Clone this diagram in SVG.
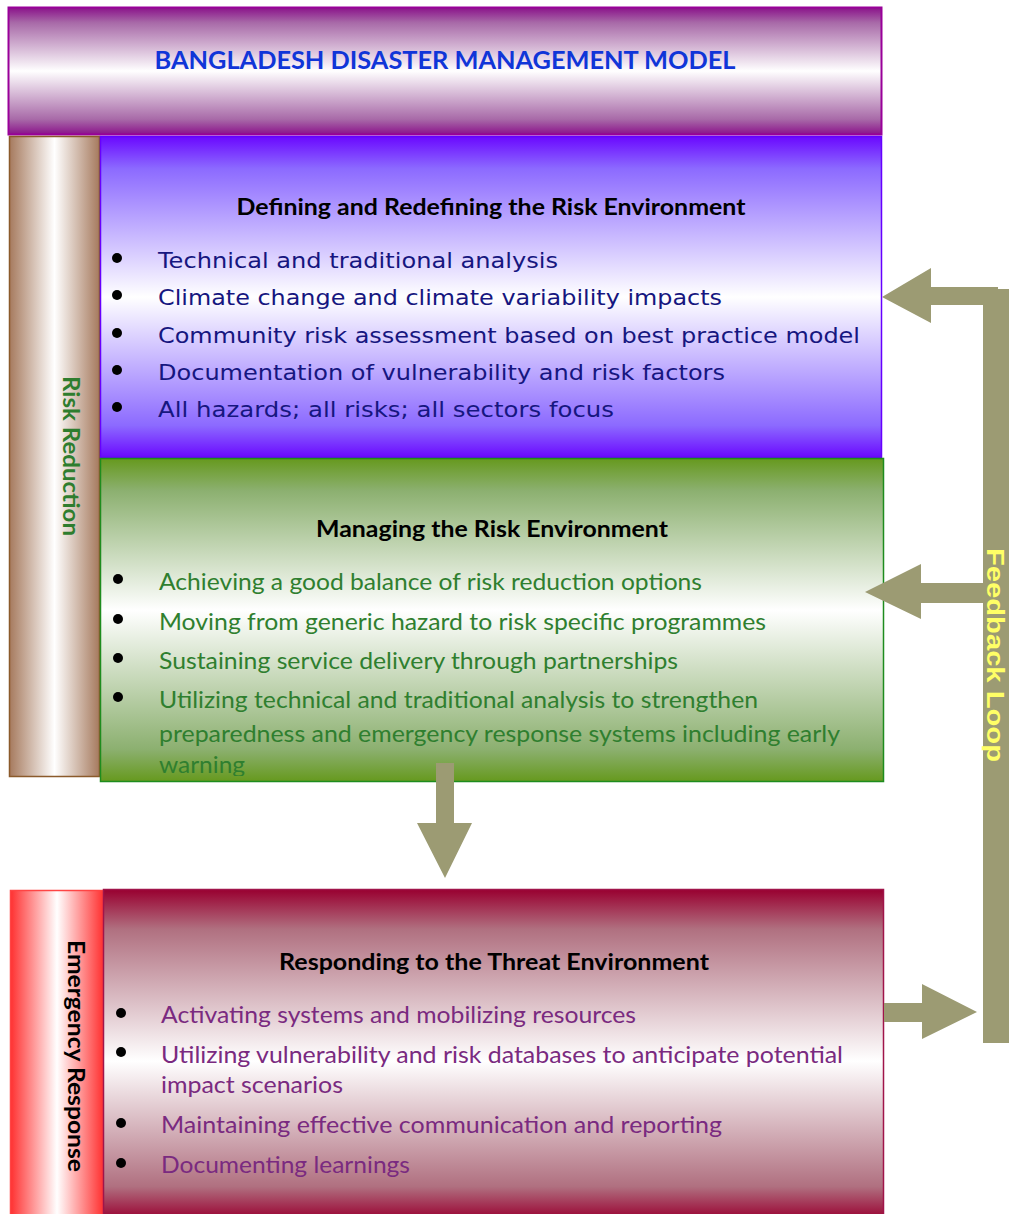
<svg xmlns="http://www.w3.org/2000/svg" width="1009" height="1214" viewBox="0 0 1009 1214">
<defs>
<linearGradient id="gHead" x1="0" y1="0" x2="0" y2="1">
<stop offset="0" stop-color="#8a128a"/><stop offset="0.12" stop-color="#a86aa8"/><stop offset="0.5" stop-color="#ffffff"/><stop offset="0.88" stop-color="#a86aa8"/><stop offset="1" stop-color="#8a128a"/>
</linearGradient>
<linearGradient id="gBox1" x1="0" y1="0" x2="0" y2="1">
<stop offset="0" stop-color="#6a08ff"/><stop offset="0.1" stop-color="#8c6aff"/><stop offset="0.5" stop-color="#ffffff"/><stop offset="0.9" stop-color="#8c6aff"/><stop offset="1" stop-color="#6a08ff"/>
</linearGradient>
<linearGradient id="gBox2" x1="0" y1="0" x2="0" y2="1">
<stop offset="0" stop-color="#66991e"/><stop offset="0.1" stop-color="#8cb070"/><stop offset="0.47" stop-color="#ffffff"/><stop offset="0.9" stop-color="#8cb070"/><stop offset="1" stop-color="#66991e"/>
</linearGradient>
<linearGradient id="gBox3" x1="0" y1="0" x2="0" y2="1">
<stop offset="0" stop-color="#990030"/><stop offset="0.12" stop-color="#b07080"/><stop offset="0.52" stop-color="#ffffff"/><stop offset="0.9" stop-color="#b07080"/><stop offset="1" stop-color="#990030"/>
</linearGradient>
<linearGradient id="gRR" x1="0" y1="0" x2="1" y2="0">
<stop offset="0" stop-color="#a67a5e"/><stop offset="0.5" stop-color="#ffffff"/><stop offset="1" stop-color="#a67a5e"/>
</linearGradient>
<linearGradient id="gER" x1="0" y1="0" x2="1" y2="0">
<stop offset="0" stop-color="#ff3030"/><stop offset="0.5" stop-color="#ffffff"/><stop offset="1" stop-color="#ff3030"/>
</linearGradient>
<clipPath id="clip2"><rect x="100" y="458" width="784" height="318"/></clipPath>
<style>
.title{font-family:Lato,"Liberation Sans",sans-serif;font-weight:bold;font-size:22px;fill:#000}
.b1{font-family:"DejaVu Sans","Liberation Sans",sans-serif;font-size:22px;fill:#161680}
.b2{font-family:Lato,"Liberation Sans",sans-serif;font-size:23px;fill:#2f7f2f}
.b3{font-family:Lato,"Liberation Sans",sans-serif;font-size:23px;fill:#7a2a80}
.vt{font-family:Lato,"Liberation Sans",sans-serif;font-weight:bold;font-size:23px}
.dot{fill:#000}
.arr{fill:#9c9b73}
</style>
</defs>
<rect width="1009" height="1214" fill="#ffffff"/>

<g id="header">
<rect x="8.5" y="7.5" width="873" height="127" fill="url(#gHead)" stroke="#990099" stroke-width="2"/>
<text x="445" y="69" text-anchor="middle" textLength="581" lengthAdjust="spacingAndGlyphs" style="font-family:Lato,'Liberation Sans',sans-serif;font-weight:bold;font-size:24px;fill:#1035d8">BANGLADESH DISASTER MANAGEMENT MODEL</text>
</g>

<g id="risk-reduction">
<rect x="9.5" y="136.5" width="90" height="640" fill="url(#gRR)" stroke="#8b5a2b" stroke-width="1.5"/>
<text class="vt" transform="translate(63 456) rotate(90)" text-anchor="middle" textLength="160" lengthAdjust="spacingAndGlyphs" fill="#2e7d2e">Risk Reduction</text>
</g>

<g id="defining-risk">
<rect x="100.5" y="136.5" width="781" height="321" fill="url(#gBox1)" stroke="#6600ff" stroke-width="1.5"/>
<text class="title" x="491" y="215" text-anchor="middle" textLength="509" lengthAdjust="spacingAndGlyphs">Defining and Redefining the Risk Environment</text>
<circle class="dot" cx="117" cy="258" r="5"/><circle class="dot" cx="117" cy="295" r="5"/><circle class="dot" cx="117" cy="333" r="5"/><circle class="dot" cx="117" cy="370" r="5"/><circle class="dot" cx="117" cy="407" r="5"/>
<text class="b1" x="158" y="268" textLength="400" lengthAdjust="spacingAndGlyphs">Technical and traditional analysis</text>
<text class="b1" x="158" y="305" textLength="564" lengthAdjust="spacingAndGlyphs">Climate change and climate variability impacts</text>
<text class="b1" x="158" y="343" textLength="702" lengthAdjust="spacingAndGlyphs">Community risk assessment based on best practice model</text>
<text class="b1" x="158" y="380" textLength="567" lengthAdjust="spacingAndGlyphs">Documentation of vulnerability and risk factors</text>
<text class="b1" x="158" y="417" textLength="456" lengthAdjust="spacingAndGlyphs">All hazards; all risks; all sectors focus</text>
</g>

<g id="managing-risk">
<rect x="100.5" y="458.5" width="783" height="323" fill="url(#gBox2)" stroke="#1e8c1e" stroke-width="1.5"/>
<text class="title" x="492" y="537" text-anchor="middle" textLength="352" lengthAdjust="spacingAndGlyphs">Managing the Risk Environment</text>
<circle class="dot" cx="118" cy="579" r="5"/><circle class="dot" cx="118" cy="619" r="5"/><circle class="dot" cx="118" cy="658" r="5"/><circle class="dot" cx="118" cy="697" r="5"/>
<g clip-path="url(#clip2)">
<text class="b2" x="159" y="590" textLength="543" lengthAdjust="spacingAndGlyphs">Achieving a good balance of risk reduction options</text>
<text class="b2" x="159" y="630" textLength="607" lengthAdjust="spacingAndGlyphs">Moving from generic hazard to risk specific programmes</text>
<text class="b2" x="159" y="669" textLength="519" lengthAdjust="spacingAndGlyphs">Sustaining service delivery through partnerships</text>
<text class="b2" x="159" y="708" textLength="599" lengthAdjust="spacingAndGlyphs">Utilizing technical and traditional analysis to strengthen</text>
<text class="b2" x="159" y="742" textLength="681" lengthAdjust="spacingAndGlyphs">preparedness and emergency response systems including early</text>
<text class="b2" x="159" y="773" textLength="86" lengthAdjust="spacingAndGlyphs">warning</text>
</g>
</g>

<g id="emergency-response">
<rect x="10.5" y="890.5" width="93" height="330" fill="url(#gER)" stroke="#ff4444" stroke-width="1.5"/>
<text class="vt" transform="translate(68 1056) rotate(90)" text-anchor="middle" textLength="232" lengthAdjust="spacingAndGlyphs" fill="#000">Emergency Response</text>
</g>

<g id="responding-threat">
<rect x="103.5" y="889.5" width="780" height="330" fill="url(#gBox3)" stroke="#a0144a" stroke-width="1.5"/>
<text class="title" x="494" y="970" text-anchor="middle" textLength="430" lengthAdjust="spacingAndGlyphs">Responding to the Threat Environment</text>
<circle class="dot" cx="121" cy="1013" r="5"/><circle class="dot" cx="121" cy="1052" r="5"/><circle class="dot" cx="121" cy="1123" r="5"/><circle class="dot" cx="121" cy="1163" r="5"/>
<text class="b3" x="161" y="1023" textLength="475" lengthAdjust="spacingAndGlyphs">Activating systems and mobilizing resources</text>
<text class="b3" x="161" y="1063" textLength="682" lengthAdjust="spacingAndGlyphs">Utilizing vulnerability and risk databases to anticipate potential</text>
<text class="b3" x="161" y="1093" textLength="182" lengthAdjust="spacingAndGlyphs">impact scenarios</text>
<text class="b3" x="161" y="1133" textLength="561" lengthAdjust="spacingAndGlyphs">Maintaining effective communication and reporting</text>
<text class="b3" x="161" y="1173" textLength="249" lengthAdjust="spacingAndGlyphs">Documenting learnings</text>
</g>

<g id="connectors">
<polygon class="arr" points="436,763 454,763 454,823 472,823 445,878 417,823 436,823"/>
<rect class="arr" x="983" y="289" width="26" height="754"/>
<polygon class="arr" points="998,287 998,305 931,305 931,323 882,297 931,268 931,287"/>
<polygon class="arr" points="984,583 984,603 921,603 921,619 865,592 921,564 921,583"/>
<polygon class="arr" points="884,1003 922,1003 922,984 977,1012 922,1039 922,1022 884,1022"/>
<text transform="translate(987 655) rotate(90)" text-anchor="middle" textLength="214" lengthAdjust="spacingAndGlyphs" style="font-family:'Liberation Sans',Arial,sans-serif;font-weight:bold;font-size:24px;fill:#ffff66">Feedback Loop</text>
</g>
</svg>
